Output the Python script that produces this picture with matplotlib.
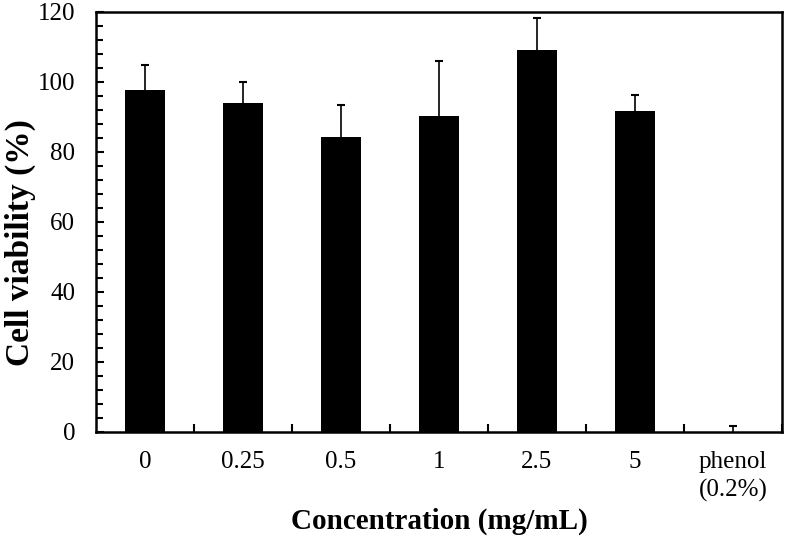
import numpy as np
import matplotlib
matplotlib.use('Agg')
import matplotlib.pyplot as plt
from matplotlib.ticker import MultipleLocator

# data
categories = ['0', '0.25', '0.5', '1', '2.5', '5', 'phenol\n(0.2%)']
viability = [97.7, 94.1, 84.4, 90.2, 109.1, 91.8, 0.0]
errors = [7.0, 5.8, 9.0, 15.8, 9.1, 4.4, 1.8]

plt.rcParams['font.family'] = 'Liberation Serif'

fig = plt.figure(figsize=(7.93, 5.40), dpi=100)
ax = fig.add_axes([0.121, 0.2, 0.865, 0.778])

x = np.arange(len(categories))
ax.bar(x, viability, width=0.4, color='black', linewidth=0)
# only the upper half of the error bars is shown
eb = ax.errorbar(x, viability, yerr=[np.zeros(len(errors)), errors], fmt='none',
                 ecolor='black', elinewidth=1.2, capsize=3, capthick=1.5)
eb[1][0].set_visible(False)  # lower caps

ax.set_xlim(-0.5, len(categories) - 0.5)
ax.set_ylim(0, 120)
ax.yaxis.set_major_locator(MultipleLocator(20))
ax.yaxis.set_minor_locator(MultipleLocator(4))

# x ticks between the groups, labels at the centres
ax.set_xticks(x + 0.5, minor=False)
ax.set_xticklabels([])
ax.set_xticks(x, minor=True)
ax.set_xticklabels(categories, minor=True, fontsize=18, linespacing=1.3)
ax.tick_params(axis='x', which='minor', length=0, pad=14)
ax.tick_params(axis='x', which='major', direction='in', length=6, width=1.5)
ax.tick_params(axis='y', which='both', direction='in', width=1.5, labelsize=18, pad=15)
ax.tick_params(axis='y', which='major', length=6)
ax.tick_params(axis='y', which='minor', length=5)

for s in ax.spines.values():
    s.set_linewidth(1.8)

ax.set_ylabel('Cell viability (%)', fontsize=24, fontweight='bold')
ax.yaxis.set_label_coords(-0.087, 0.45)
ax.set_xlabel('Concentration (mg/mL)', fontsize=21, fontweight='bold')
ax.xaxis.set_label_coords(0.5, -0.18)

fig.savefig('out.png', dpi=100)
